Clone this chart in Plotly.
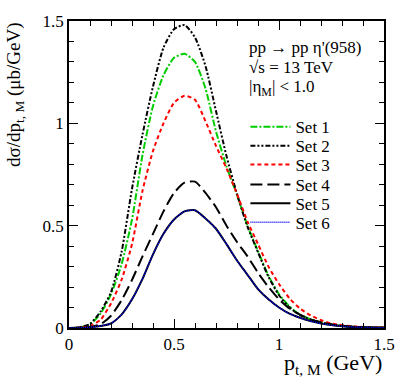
import plotly.graph_objects as go

# transverse momentum grid (GeV)
pt = [0.00, 0.05, 0.10, 0.15, 0.20, 0.25, 0.30, 0.35, 0.40, 0.45, 0.50,
      0.55, 0.60, 0.65, 0.70, 0.75, 0.80, 0.85, 0.90, 0.95, 1.00,
      1.05, 1.10, 1.15, 1.20, 1.25, 1.30, 1.35, 1.40, 1.45, 1.50]

# dsigma/dpt (mub/GeV)
set1 = [0, 0.003, 0.018, 0.07, 0.165, 0.31, 0.53, 0.845, 1.085, 1.235, 1.32,
        1.34, 1.30, 1.17, 0.96, 0.79, 0.65, 0.50, 0.375, 0.255, 0.165,
        0.105, 0.065, 0.043, 0.028, 0.017, 0.011, 0.007, 0.004, 0.003, 0.002]
set2 = [0, 0.003, 0.02, 0.08, 0.175, 0.37, 0.68, 0.945, 1.18, 1.37, 1.46,
        1.48, 1.42, 1.28, 1.06, 0.84, 0.655, 0.495, 0.37, 0.25, 0.16,
        0.10, 0.063, 0.042, 0.028, 0.017, 0.011, 0.007, 0.004, 0.003, 0.002]
set3 = [0, 0.002, 0.01, 0.04, 0.12, 0.235, 0.41, 0.67, 0.865, 1.00, 1.10,
        1.135, 1.115, 1.01, 0.89, 0.78, 0.655, 0.52, 0.41, 0.30, 0.215,
        0.145, 0.095, 0.062, 0.038, 0.022, 0.014, 0.008, 0.005, 0.003, 0.002]
set4 = [0, 0.001, 0.005, 0.018, 0.06, 0.135, 0.235, 0.35, 0.46, 0.57, 0.66,
        0.71, 0.715, 0.66, 0.59, 0.50, 0.42, 0.35, 0.27, 0.20, 0.14,
        0.095, 0.065, 0.042, 0.027, 0.017, 0.01, 0.006, 0.004, 0.002, 0.001]
set5 = [0, 0.001, 0.004, 0.01, 0.022, 0.065, 0.14, 0.24, 0.36, 0.46, 0.53,
        0.57, 0.575, 0.535, 0.485, 0.41, 0.33, 0.26, 0.19, 0.14, 0.10,
        0.07, 0.05, 0.034, 0.022, 0.014, 0.009, 0.005, 0.003, 0.002, 0.001]
set6 = [0, 0.001, 0.004, 0.01, 0.022, 0.065, 0.14, 0.24, 0.36, 0.46, 0.53,
        0.57, 0.575, 0.535, 0.485, 0.41, 0.33, 0.26, 0.19, 0.14, 0.10,
        0.07, 0.05, 0.034, 0.022, 0.014, 0.009, 0.005, 0.003, 0.002, 0.001]

names = ["Set 1", "Set 2", "Set 3", "Set 4", "Set 5", "Set 6"]
series = [set1, set2, set3, set4, set5, set6]
styles = [
    dict(color="#00cc00", dash="7px,2px,2px,2px", width=2),
    dict(color="black", dash="5px,2px,2px,2px,2px,2px", width=2),
    dict(color="#ff0000", dash="4px,3px", width=2),
    dict(color="black", dash="12px,5px", width=2),
    dict(color="black", dash="solid", width=2),
    dict(color="#0000ff", dash="1px,1px", width=1.5),
]

SERIF = "Liberation Serif, Times New Roman, serif"

fig = go.Figure()
# one small legend per set so the rows sit as tight as in the original
legend_rows = [0.654, 0.592, 0.531, 0.466, 0.405, 0.343]
for i, (name, ys, st) in enumerate(zip(names, series, styles)):
    key = "legend" if i == 0 else f"legend{i + 1}"
    fig.add_trace(go.Scatter(
        x=pt, y=ys, mode="lines", name=name, legend=key,
        line=dict(color=st["color"], dash=st["dash"], width=st["width"],
                  shape="spline", smoothing=0.6),
    ))
    fig.update_layout({key: dict(
        x=0.56, y=legend_rows[i], xanchor="left", yanchor="middle",
        font=dict(family=SERIF, size=17, color="black"),
        bgcolor="rgba(0,0,0,0)", itemwidth=40,
    )})

axis_common = dict(
    showline=True, linecolor="black", linewidth=1.5, mirror="ticks",
    ticks="inside", ticklen=9, tickwidth=1, tickcolor="black",
    dtick=0.5, tick0=0, showgrid=False, zeroline=False,
    minor=dict(ticks="inside", ticklen=5, dtick=0.1, tickcolor="black", tickwidth=1),
    tickfont=dict(family=SERIF, size=17, color="black"),
)

fig.update_xaxes(range=[0, 1.5], **axis_common)
fig.update_yaxes(range=[0, 1.5], **axis_common)

annos = [
    dict(text="p<sub>t, M</sub> (GeV)", x=1.0, y=-0.065, xanchor="right", yanchor="top",
         font=dict(size=22)),
    dict(text="dσ/dp<sub>t, M</sub> (μb/GeV)", x=-0.216, y=1.0, xanchor="left", yanchor="top",
         textangle=-90, font=dict(size=19)),
    dict(text="pp → pp η'(958)", x=0.565, y=0.915, xanchor="left", yanchor="middle",
         font=dict(size=17)),
    dict(text="√s = 13 TeV", x=0.565, y=0.85, xanchor="left", yanchor="middle",
         font=dict(size=17)),
    dict(text="|η<sub>M</sub>| < 1.0", x=0.565, y=0.783, xanchor="left", yanchor="middle",
         font=dict(size=17)),
]
for a in annos:
    a["font"].update(family=SERIF, color="black")
    fig.add_annotation(xref="paper", yref="paper", showarrow=False, **a)

fig.update_layout(
    width=407, height=387,
    margin=dict(l=69, r=20, t=19, b=59),
    showlegend=True,
    font=dict(family=SERIF, color="black"),
    paper_bgcolor="white", plot_bgcolor="white",
)

fig.write_html("out.html", config={"displayModeBar": False},
               post_script="document.body.style.margin='0';")
